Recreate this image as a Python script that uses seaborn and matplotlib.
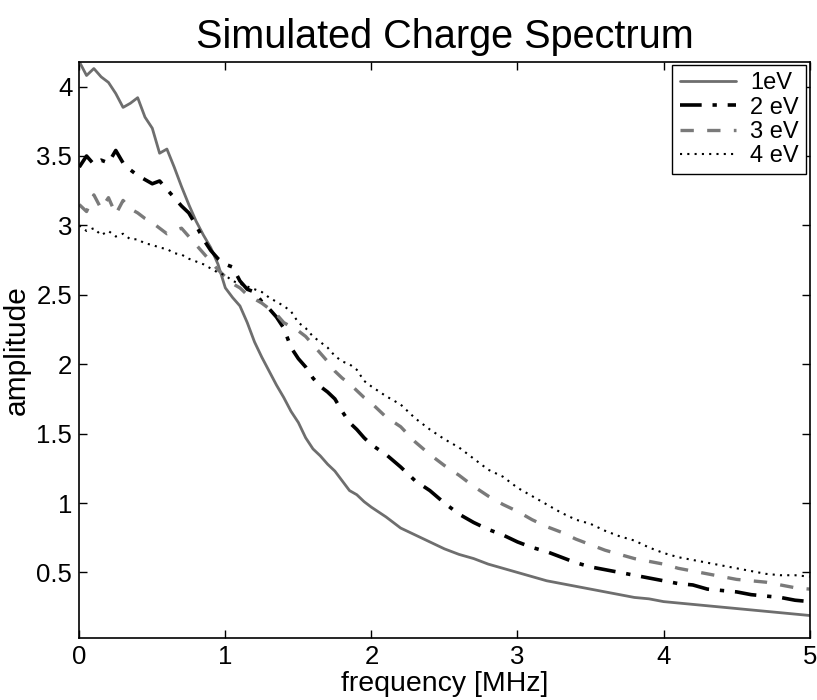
import numpy as np
import pandas as pd
import matplotlib
matplotlib.use('Agg')
import matplotlib.pyplot as plt
import seaborn as sns

# frequency grid [MHz]: 0.05 steps up to 2, then 0.1 steps
freq = [0.00, 0.05, 0.10, 0.15, 0.20, 0.25, 0.30, 0.35, 0.40, 0.45,
        0.50, 0.55, 0.60, 0.65, 0.70, 0.75, 0.80, 0.85, 0.90, 0.95,
        1.00, 1.05, 1.10, 1.15, 1.20, 1.25, 1.30, 1.35, 1.40, 1.45,
        1.50, 1.55, 1.60, 1.65, 1.70, 1.75, 1.80, 1.85, 1.90, 1.95,
        2.00, 2.10, 2.20, 2.30, 2.40, 2.50, 2.60, 2.70, 2.80, 2.90,
        3.00, 3.10, 3.20, 3.30, 3.40, 3.50, 3.60, 3.70, 3.80, 3.90,
        4.00, 4.10, 4.20, 4.30, 4.40, 4.50, 4.60, 4.70, 4.80, 4.90, 5.00]

amp_1ev = [4.18, 4.08, 4.13, 4.07, 4.03, 3.95, 3.85, 3.88, 3.92, 3.78,
           3.70, 3.52, 3.55, 3.42, 3.28, 3.15, 3.03, 2.93, 2.84, 2.72,
           2.55, 2.48, 2.42, 2.30, 2.16, 2.05, 1.95, 1.85, 1.76, 1.66,
           1.58, 1.47, 1.39, 1.34, 1.28, 1.23, 1.16, 1.09, 1.06, 1.01,
           0.97, 0.90, 0.82, 0.77, 0.72, 0.67, 0.63, 0.60, 0.56, 0.53,
           0.50, 0.47, 0.44, 0.42, 0.40, 0.38, 0.36, 0.34, 0.32, 0.31,
           0.29, 0.28, 0.27, 0.26, 0.25, 0.24, 0.23, 0.22, 0.21, 0.20, 0.19]

amp_2ev = [3.42, 3.50, 3.44, 3.47, 3.45, 3.54, 3.45, 3.40, 3.36, 3.33,
           3.30, 3.32, 3.26, 3.20, 3.14, 3.09, 3.00, 2.90, 2.82, 2.76,
           2.72, 2.70, 2.60, 2.54, 2.52, 2.45, 2.40, 2.34, 2.26, 2.12,
           2.04, 1.98, 1.90, 1.84, 1.80, 1.75, 1.66, 1.58, 1.53, 1.47,
           1.42, 1.35, 1.26, 1.16, 1.09, 1.00, 0.92, 0.86, 0.81, 0.77,
           0.72, 0.68, 0.65, 0.61, 0.57, 0.54, 0.52, 0.50, 0.48, 0.46,
           0.44, 0.42, 0.41, 0.38, 0.37, 0.36, 0.34, 0.33, 0.32, 0.30, 0.29]

amp_3ev = [3.15, 3.10, 3.22, 3.12, 3.20, 3.08, 3.18, 3.12, 3.09, 3.05,
           3.02, 2.98, 2.94, 2.96, 2.98, 2.92, 2.86, 2.80, 2.74, 2.68,
           2.63, 2.58, 2.55, 2.50, 2.47, 2.44, 2.40, 2.36, 2.30, 2.27,
           2.24, 2.20, 2.14, 2.08, 2.02, 1.95, 1.90, 1.86, 1.81, 1.76,
           1.72, 1.62, 1.55, 1.44, 1.35, 1.27, 1.20, 1.12, 1.05, 0.99,
           0.94, 0.88, 0.83, 0.79, 0.74, 0.70, 0.66, 0.63, 0.60, 0.58,
           0.56, 0.53, 0.51, 0.49, 0.47, 0.45, 0.44, 0.43, 0.41, 0.39, 0.38]

amp_4ev = [3.00, 2.96, 2.98, 2.93, 2.96, 2.92, 2.94, 2.90, 2.90, 2.87,
           2.86, 2.84, 2.83, 2.80, 2.79, 2.76, 2.74, 2.72, 2.69, 2.66,
           2.64, 2.60, 2.58, 2.56, 2.54, 2.52, 2.48, 2.45, 2.42, 2.38,
           2.30, 2.26, 2.20, 2.16, 2.12, 2.06, 2.02, 2.00, 1.96, 1.88,
           1.84, 1.77, 1.71, 1.61, 1.53, 1.46, 1.40, 1.32, 1.24, 1.19,
           1.11, 1.05, 0.99, 0.93, 0.88, 0.85, 0.80, 0.76, 0.73, 0.68,
           0.64, 0.61, 0.59, 0.57, 0.55, 0.53, 0.51, 0.49, 0.48, 0.48, 0.47]

labels = ['1eV', '2 eV', '3 eV', '4 eV']

# long table for seaborn
df = pd.concat([
    pd.DataFrame({'freq': freq, 'amp': a, 'energy': lab})
    for a, lab in zip([amp_1ev, amp_2ev, amp_3ev, amp_4ev], labels)
], ignore_index=True)

sns.set_style('ticks')
plt.rcParams['font.family'] = ['Liberation Sans', 'DejaVu Sans']
plt.rcParams['text.color'] = 'black'
plt.rcParams['axes.labelcolor'] = 'black'
plt.rcParams['xtick.color'] = 'black'
plt.rcParams['ytick.color'] = 'black'

fig, ax = plt.subplots(figsize=(8.17, 7.0), dpi=100)
plt.subplots_adjust(left=0.097, right=0.991, bottom=0.089, top=0.912)

styles = {
    '1eV':  dict(color='#6e6e6e', linestyle='-',  linewidth=2.0),
    '2 eV': dict(color='black',   linestyle=(0, (6, 3, 1.2, 3)), linewidth=2.6),
    '3 eV': dict(color='#7a7a7a', linestyle=(0, (4, 4)), linewidth=2.4),
    '4 eV': dict(color='black',   linestyle=(0, (1, 2.5)), linewidth=1.5),
}
for lab in labels:
    sns.lineplot(data=df[df['energy'] == lab], x='freq', y='amp', ax=ax,
                 label=lab, **styles[lab])

ax.set_xlim(0, 5)
ax.set_ylim(0.03, 4.18)
ax.set_xticks([0, 1, 2, 3, 4, 5])
ax.set_yticks([0.5, 1, 1.5, 2, 2.5, 3, 3.5, 4])
ax.set_yticklabels(['0.5', '1', '1.5', '2', '2.5', '3', '3.5', '4'])
ax.tick_params(axis='both', direction='in', length=6, labelsize=18.5,
               top=True, right=True, width=1, pad=5)
for s in ax.spines.values():
    s.set_linewidth(1.2)
    s.set_color('black')

ax.set_xlabel('frequency [MHz]', fontsize=20.5, labelpad=2)
ax.set_ylabel('amplitude', fontsize=21.5, labelpad=4)
ax.set_title('Simulated Charge Spectrum', fontsize=28.5, pad=10)

leg = ax.legend(loc='upper right', fontsize=17, frameon=True, fancybox=False,
                handlelength=2.4, borderaxespad=0.15, labelspacing=0.1,
                borderpad=0.3, handletextpad=0.6)
leg.get_frame().set_edgecolor('black')
leg.get_frame().set_linewidth(1.0)
leg.get_frame().set_alpha(1)

fig.savefig('out.png', dpi=100)
